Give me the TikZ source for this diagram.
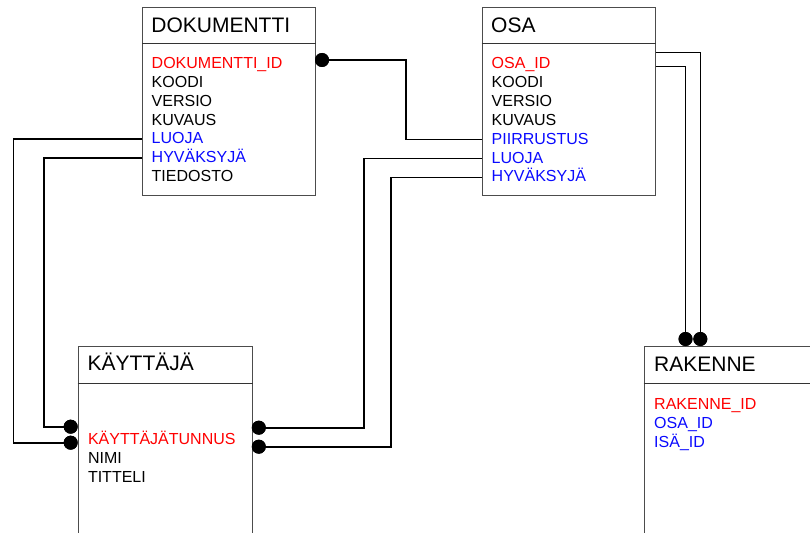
\documentclass[tikz,border=0pt]{standalone}
\usepackage{fontspec}
\setmainfont{Liberation Sans}
\definecolor{pkred}{RGB}{255,0,0}
\definecolor{fkblue}{RGB}{10,10,255}
\begin{document}
\begin{tikzpicture}[x=1pt,y=-1pt,
  entity/.style={draw=black!70, line width=1pt, fill=white, inner sep=0pt, anchor=north west},
  divider/.style={draw=black!80, line width=1pt},
  title/.style={anchor=base west, inner sep=0pt, font=\fontsize{21}{21}\selectfont},
  attr/.style={anchor=base west, inner sep=0pt, font=\fontsize{16}{16}\selectfont, text height=9pt, text depth=0pt},
  pk/.style={attr, text=pkred},
  fk/.style={attr, text=fkblue},
  link/.style={line width=1.6pt, line join=miter},
  enddot/.style={circle, fill=black, inner sep=0pt, minimum size=14pt}]
\useasboundingbox (0,0) rectangle (810,532);
\clip (0,0) rectangle (810,532);

% entity boxes
\node[entity, minimum width=173pt, minimum height=188pt] (dok) at (142,7) {};
\node[entity, minimum width=173pt, minimum height=188pt] (osa) at (481.7,7.3) {};
\node[entity, minimum width=174pt, minimum height=220pt] (kay) at (77.7,346) {};
\node[entity, minimum width=200pt, minimum height=220pt] (rak) at (643.7,346) {};

% header dividers
\draw[divider] ([yshift=-37pt]dok.north west) -- ([yshift=-37pt]dok.north east);
\draw[divider] ([yshift=-36.4pt]osa.north west) -- ([yshift=-36.4pt]osa.north east);
\draw[divider] ([yshift=-37.3pt]kay.north west) -- ([yshift=-37.3pt]kay.north east);
\draw[divider] ([yshift=-37.3pt]rak.north west) -- ([yshift=-37.3pt]rak.north east);

% DOKUMENTTI
\node[title] (dokT) at (151.2,32.3) {DOKUMENTTI};
\node[pk] (did)   at (151.5,68.3)  {DOKUMENTTI\_ID};
\node[attr] (dkoodi) at (151.5,87.3)  {KOODI};
\node[attr] (dvers)  at (151.5,106.3) {VERSIO};
\node[attr] (dkuv)   at (151.5,125.3) {KUVAUS};
\node[fk] (dluoja) at (151.5,143.3) {LUOJA};
\node[fk] (dhyv)   at (151.5,162.3) {HYVÄKSYJÄ};
\node[attr] (dtied)  at (151.5,181.3) {TIEDOSTO};

% OSA
\node[title] (osaT) at (491,32.2) {OSA};
\node[pk] (oid)    at (491.5,68.3)  {OSA\_ID};
\node[attr] (okoodi) at (491.5,87.3)  {KOODI};
\node[attr] (overs)  at (491.5,106.3) {VERSIO};
\node[attr] (okuv)   at (491.5,125.3) {KUVAUS};
\node[fk] (opiir)  at (491.5,144)   {PIIRRUSTUS};
\node[fk] (oluoja) at (491.5,163)   {LUOJA};
\node[fk] (ohyv)   at (491.5,181.8) {HYVÄKSYJÄ};

% KÄYTTÄJÄ
\node[title] (kayT) at (87.5,370.7) {KÄYTTÄJÄ};
\node[pk] (ktunnus) at (87.8,444.3) {KÄYTTÄJÄTUNNUS};
\node[attr] (knimi)   at (87.8,463.3) {NIMI};
\node[attr] (ktitt)   at (87.8,482.3) {TITTELI};

% RAKENNE
\node[title] (rakT) at (654,371) {RAKENNE};
\node[pk] (rid)   at (654,409) {RAKENNE\_ID};
\node[fk] (rosa)  at (654,428) {OSA\_ID};
\node[fk] (risa)  at (654,447) {ISÄ\_ID};

% bend points of the relationship lines
\coordinate (b1) at (406,139.5);
\coordinate (b2) at (13.3,442.7);
\coordinate (b3) at (43.7,426.7);
\coordinate (b4) at (364,427.7);
\coordinate (b5) at (391,446.7);
\coordinate (b6) at (700.3,52.7);
\coordinate (b7) at (685.5,66.7);

% end dots
\node[enddot] (e1) at (322,60) {};
\node[enddot] (e2) at (70.7,442.7) {};
\node[enddot] (e3) at (70.7,426.7) {};
\node[enddot] (e4) at (258.8,427.7) {};
\node[enddot] (e5) at (258.8,446.7) {};
\node[enddot] (e6) at (700.3,339) {};
\node[enddot] (e7) at (685.5,339) {};

% relationships
\draw[link] (e1.center) -| (b1) -- (osa.west |- b1);
\draw[link] (dok.west |- dluoja.west) -| (b2) -- (e2.center);
\draw[link] (dok.west |- dhyv.west) -| (b3) -- (e3.center);
\draw[link] (osa.west |- oluoja.west) -| (b4) -- (e4.center);
\draw[link] (osa.west |- ohyv.west) -| (b5) -- (e5.center);
\draw[link] (osa.east |- b6) -- (b6) -- (e6.center);
\draw[link] (osa.east |- b7) -- (b7) -- (e7.center);

% redraw dots on top of the lines
\foreach \d in {e1,e2,e3,e4,e5,e6,e7}
  \fill (\d) circle (7pt);
\end{tikzpicture}
\end{document}
